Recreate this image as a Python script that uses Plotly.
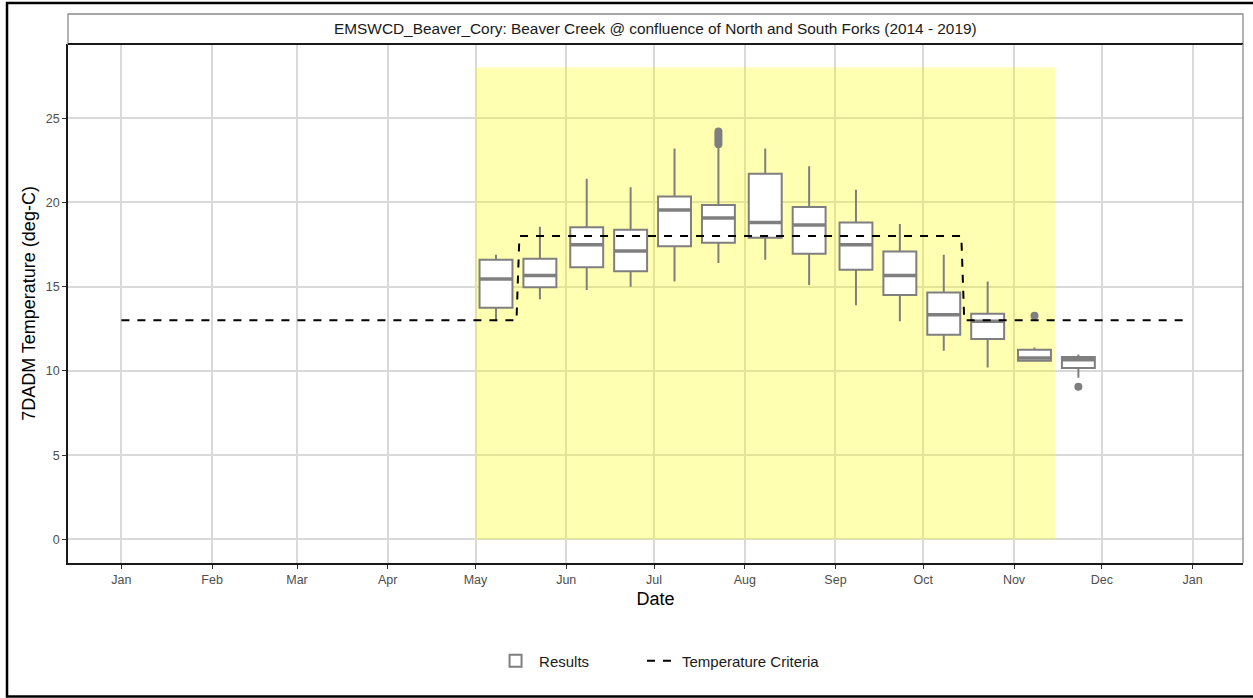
import plotly.graph_objects as go
import pandas as pd

# ---- data ----
box_dates = ["2000-05-08", "2000-05-23", "2000-06-08", "2000-06-23", "2000-07-08", "2000-07-23",
             "2000-08-08", "2000-08-23", "2000-09-08", "2000-09-23", "2000-10-08", "2000-10-23",
             "2000-11-08", "2000-11-23"]
box_lowerfence = [12.95, 14.25, 14.8, 15.0, 15.3, 16.4, 16.6, 15.1, 13.9, 12.95, 11.2, 10.2, 10.55, 9.6]
box_q1 = [13.75, 14.97, 16.15, 15.92, 17.4, 17.6, 17.9, 16.95, 16.0, 14.5, 12.15, 11.9, 10.6, 10.17]
box_median = [15.45, 15.66, 17.48, 17.12, 19.55, 19.08, 18.8, 18.66, 17.48, 15.66, 13.33, 12.95, 10.76, 10.66]
box_q3 = [16.6, 16.65, 18.52, 18.38, 20.35, 19.85, 21.7, 19.72, 18.8, 17.08, 14.65, 13.39, 11.26, 10.82]
box_upperfence = [16.9, 18.56, 21.4, 20.9, 23.2, 23.3, 23.2, 22.15, 20.75, 18.72, 16.9, 15.3, 11.39, 10.98]

outlier_dates = ["2000-07-23", "2000-07-23", "2000-07-23", "2000-07-23", "2000-07-23", "2000-07-23",
                 "2000-11-08", "2000-11-23"]
outlier_values = [23.45, 23.6, 23.75, 23.9, 24.05, 24.2, 13.27, 9.06]

criteria_dates = ["2000-01-01", "2000-05-15", "2000-05-16", "2000-10-14", "2000-10-15", "2000-12-31"]
criteria_values = [13, 13, 18, 18, 13, 13]

season_start = "2000-05-01"
season_end = "2000-11-15"
season_ymin = 0
season_ymax = 28

y_ticks = [0, 5, 10, 15, 20, 25]
title_text = "EMSWCD_Beaver_Cory: Beaver Creek @ confluence of North and South Forks (2014 - 2019)"

# ---- style ----
FONT = "Liberation Sans, Arial, sans-serif"
GRAY = "#7F7F7F"
box_width_days = 11.25
box_width_ms = box_width_days * 86400000

fig = go.Figure()

fig.add_trace(go.Box(
    x=pd.to_datetime(box_dates),
    q1=box_q1, median=box_median, q3=box_q3,
    lowerfence=box_lowerfence, upperfence=box_upperfence,
    width=box_width_ms,
    whiskerwidth=0,
    fillcolor="white",
    line=dict(color=GRAY, width=2),
    name="Results",
    boxpoints=False,
    hoverinfo="skip",
    legend="legend",
))

# thicker median bars (ggplot style), computed from the median data
half = pd.Timedelta(days=box_width_days / 2)
mx, my = [], []
for d, m in zip(pd.to_datetime(box_dates), box_median):
    mx += [d - half, d + half, None]
    my += [m, m, None]
fig.add_trace(go.Scatter(x=mx, y=my, mode="lines", line=dict(color=GRAY, width=3.5),
                         showlegend=False, hoverinfo="skip"))

fig.add_trace(go.Scatter(x=pd.to_datetime(outlier_dates), y=outlier_values, mode="markers",
                         marker=dict(color=GRAY, size=8), showlegend=False, hoverinfo="skip"))

fig.add_trace(go.Scatter(x=pd.to_datetime(criteria_dates), y=criteria_values, mode="lines",
                         line=dict(color="black", width=2, dash="8px,8px"),
                         name="Temperature Criteria", hoverinfo="skip", legend="legend2"))

# spawning season rectangle
fig.add_shape(type="rect", xref="x", yref="y", x0=season_start, x1=season_end,
              y0=season_ymin, y1=season_ymax, fillcolor="rgba(255,255,0,0.3)",
              line=dict(width=0), layer="between")

# x range: Jan 1 .. Dec 31 expanded by 5%
x_lo = pd.Timestamp("2000-01-01")
x_hi = pd.Timestamp("2000-12-31")
pad = (x_hi - x_lo) * 0.05
y_pad = (season_ymax - season_ymin) * 0.05

# strip (facet title) box
strip_top = 1 + 30 / 519
fig.add_shape(type="rect", xref="paper", yref="paper", x0=0, x1=1, y0=1, y1=strip_top,
              fillcolor="white", line=dict(color="#8C8C8C", width=1.3), layer="above")
fig.add_shape(type="line", xref="paper", yref="paper", x0=0, x1=1, y0=1, y1=1,
              line=dict(color="#1A1A1A", width=2), layer="above")
# right panel border
fig.add_shape(type="line", xref="paper", yref="paper", x0=1, x1=1, y0=0, y1=1,
              line=dict(color="#8C8C8C", width=1.3), layer="above")
fig.add_annotation(text=title_text, xref="paper", yref="paper", x=0.5, y=(1 + strip_top) / 2,
                   showarrow=False, font=dict(family=FONT, size=15.4, color="#1A1A1A"),
                   xanchor="center", yanchor="middle")

# outer frame
fig.add_shape(type="rect", xref="paper", yref="paper", x0=-0.0519, x1=1.05, y0=-0.2572, y1=1.079,
              line=dict(color="black", width=2.5), fillcolor="rgba(0,0,0,0)", layer="above")

legend_common = dict(orientation="h", y=-0.189, yanchor="middle", xanchor="left",
                     font=dict(family=FONT, size=15, color="#1A1A1A"),
                     bgcolor="rgba(0,0,0,0)")

fig.update_layout(
    width=1253, height=698,
    margin=dict(l=68, r=10, t=44, b=135),
    paper_bgcolor="white", plot_bgcolor="white",
    font=dict(family=FONT, size=12, color="#4D4D4D"),
    showlegend=True,
    legend=dict(x=0.3609, itemwidth=37, **legend_common),
    legend2=dict(x=(642 - 68) / 1175, itemwidth=30, **legend_common),
    xaxis=dict(
        type="date", range=[x_lo - pad, x_hi + pad],
        dtick="M1", tick0="2000-01-01", tickformat="%b",
        showgrid=True, gridcolor="#D9D9D9", gridwidth=1.5,
        showline=True, linecolor="#1A1A1A", linewidth=1.5,
        ticks="outside", ticklen=4, tickcolor="#333333", tickwidth=1.2,
        tickfont=dict(family=FONT, size=12.5, color="#4D4D4D"),
        title=dict(text="Date", font=dict(family=FONT, size=18, color="black"), standoff=7),
        zeroline=False, automargin=False,
    ),
    yaxis=dict(
        range=[season_ymin - y_pad, season_ymax + y_pad],
        tickvals=y_ticks,
        showgrid=True, gridcolor="#D9D9D9", gridwidth=1.5,
        showline=True, linecolor="#1A1A1A", linewidth=1.5,
        ticks="outside", ticklen=4, tickcolor="#333333", tickwidth=1.2,
        tickfont=dict(family=FONT, size=12.5, color="#4D4D4D"),
        title=dict(text="7DADM Temperature (deg-C)", font=dict(family=FONT, size=18, color="black"), standoff=6),
        zeroline=False, automargin=False,
    ),
)

fig.write_html("out.html", config={"displayModeBar": False},
               post_script="document.body.style.margin='0px';")
